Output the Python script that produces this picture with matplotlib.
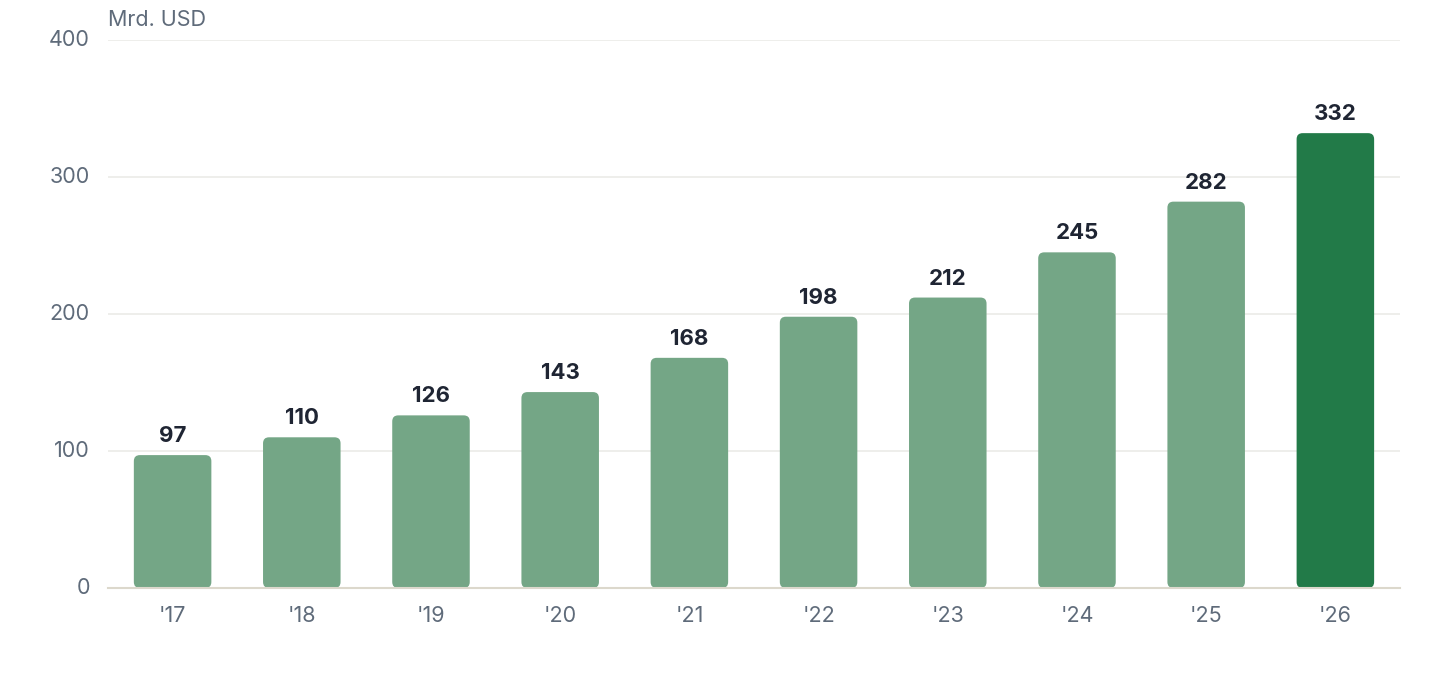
import matplotlib
matplotlib.use("Agg")
import matplotlib.pyplot as plt
from matplotlib.patches import FancyBboxPatch

plt.rcParams["font.family"] = ["Inter", "DejaVu Sans"]

years = ["'17", "'18", "'19", "'20", "'21", "'22", "'23", "'24", "'25", "'26"]
values = [97, 110, 126, 143, 168, 198, 212, 245, 282, 332]
highlight = "'26"

LIGHT = "#74a686"
DARK = "#227a48"
TICK = "#5f6b7a"
LABEL = "#1f2533"

fig = plt.figure(figsize=(14.4, 6.8), dpi=100)
ax = fig.add_axes([0.075, 0.1353, 0.8972, 0.8059])
ax.set_xlim(-0.5, len(years) - 0.5)
ax.set_ylim(0, 400)

bar_w = 0.6
# rounding radius in pixels, converted to data units for each axis
px_x = ax.transData.transform((1, 0))[0] - ax.transData.transform((0, 0))[0]
px_y = ax.transData.transform((0, 1))[1] - ax.transData.transform((0, 0))[1]
r_px = 6
r_x = r_px / px_x
aspect = px_x / px_y

for i, (yr, v) in enumerate(zip(years, values)):
    color = DARK if yr == highlight else LIGHT
    patch = FancyBboxPatch(
        (i - bar_w / 2, 0), bar_w, v,
        boxstyle=f"round,pad=0,rounding_size={r_x}",
        mutation_aspect=aspect,
        facecolor=color, edgecolor="none", zorder=3,
    )
    ax.add_patch(patch)
    ax.annotate(str(v), (i, v), xytext=(0, 6.5), textcoords="offset points",
                ha="center", va="bottom", fontsize=16, fontweight="bold",
                color=LABEL, zorder=4)

ax.set_xticks(range(len(years)))
ax.set_xticklabels(years)
ax.set_yticks([0, 100, 200, 300, 400])
ax.tick_params(axis="x", length=0, pad=13, labelsize=15.5, labelcolor=TICK)
ax.tick_params(axis="y", length=0, pad=13, labelsize=15.5, labelcolor=TICK)
for lab in ax.get_yticklabels():
    lab.set_verticalalignment("center")

ax.grid(axis="y", color="#ebebe8", linewidth=1.2, zorder=0)
ax.set_axisbelow(True)
for s in ["top", "right", "left"]:
    ax.spines[s].set_visible(False)
ax.spines["bottom"].set_color("#dcd8cc")
ax.spines["bottom"].set_linewidth(1.5)
ax.spines["bottom"].set_zorder(5)

fig.text(0.075, 0.956, "Mrd. USD", ha="left", va="bottom", fontsize=15.5, color=TICK)

fig.savefig("out.png", dpi=100, facecolor="white")
